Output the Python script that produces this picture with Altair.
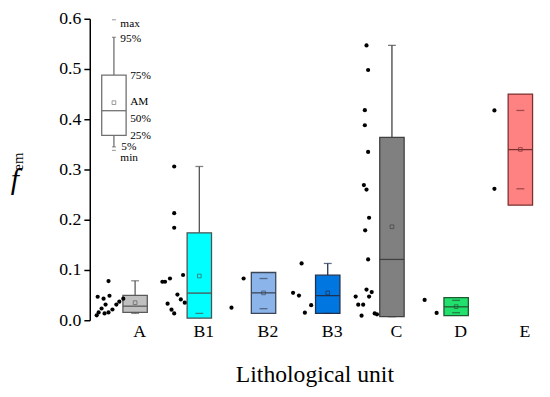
import altair as alt
import pandas as pd

# ---- data ----
groups = ["A", "B1", "B2", "B3", "C", "D", "E"]
p5 = [0.0136, 0.0136, 0.023, 0.0136, 0.007, 0.015, 0.2616]
q25 = [0.0156, 0.004, 0.0136, 0.0136, 0.007, 0.009, 0.229]
median = [0.028, 0.054, 0.0545, 0.049, 0.121, 0.0267, 0.3396]
mean = [0.035, 0.088, 0.0545, 0.0545, 0.186, 0.027, 0.34]
q75 = [0.0493, 0.174, 0.095, 0.0896, 0.364, 0.0448, 0.45]
p95 = [0.0785, 0.306, 0.083, 0.113, 0.547, 0.0396, 0.4175]
fills = ["#c0c0c0", "#00ffff", "#8ab4ea", "#0077e0", "#808080", "#22e06e", "#ff8282"]
strokes = ["#5a5a5a", "#505050", "#3c4658", "#203050", "#404040", "#1f5a30", "#7a3030"]

dot_group = (["A"] * 14 + ["B1"] * 13 + ["B2"] * 2 + ["B3"] * 5 + ["C"] * 19
             + ["D"] * 2 + ["E"] * 2)
dot_value = [
    0.0779, 0.0468, 0.0429, 0.0487, 0.0312, 0.0234, 0.0156, 0.0097, 0.0312, 0.037, 0.0429, 0.0214, 0.0156, 0.0136,
    0.306, 0.213, 0.184, 0.083, 0.090, 0.0766, 0.0766, 0.051, 0.0415, 0.035, 0.033, 0.021, 0.0136,
    0.083, 0.025,
    0.113, 0.0545, 0.049, 0.030, 0.015,
    0.547, 0.498, 0.418, 0.388, 0.335, 0.269, 0.260, 0.204, 0.179, 0.121, 0.061, 0.056, 0.047, 0.047, 0.031, 0.031,
    0.009, 0.0136, 0.0117,
    0.0405, 0.0146,
    0.4175, 0.2616,
]
dot_jitter = [
    -0.414, -0.583, -0.491, -0.399, -0.460, -0.522, -0.568, -0.598, -0.292, -0.246, -0.184, -0.353, -0.414, -0.476,
    -0.391, -0.391, -0.391, -0.457, -0.253, -0.575, -0.534, -0.341, -0.288, -0.227, -0.494, -0.433, -0.391,
    -0.31, -0.499,
    -0.407, -0.540, -0.448, -0.258, -0.356,
    -0.396, -0.371, -0.422, -0.422, -0.371, -0.437, -0.396, -0.356, -0.417, -0.371, -0.396, -0.315, -0.565, -0.356,
    -0.525, -0.448, -0.473, -0.269, -0.233,
    -0.491, -0.304,
    -0.404, -0.404,
]

# legend (key) box
key_pos = -0.33
key_stats = {"p5": 0.345, "q25": 0.368, "med": 0.417, "mean": 0.433, "q75": 0.488, "p95": 0.563,
             "min": 0.338, "max": 0.598}
key_labels = ["max", "95%", "75%", "AM", "50%", "25%", "5%", "min"]
key_label_y = [0.590, 0.560, 0.485, 0.4335, 0.401, 0.366, 0.344, 0.322]
key_label_x = [-0.230, -0.230, -0.077, -0.077, -0.077, -0.077, -0.215, -0.230]

# ---- tables ----
boxes = pd.DataFrame({"group": groups, "idx": list(range(len(groups))), "p5": p5, "q25": q25,
                      "med": median, "mean": mean, "q75": q75, "p95": p95,
                      "fill": fills, "stroke": strokes})
key = pd.DataFrame([{"group": "key", "idx": key_pos, **key_stats, "fill": "white", "stroke": "#707070"}])
dots = pd.DataFrame({"group": dot_group, "value": dot_value, "jitter": dot_jitter})
dots["idx"] = dots["group"].map({g: i for i, g in enumerate(groups)})
keytext = pd.DataFrame({"label": key_labels, "y": key_label_y, "x": key_label_x})

SERIF = "Liberation Serif"
xscale = alt.Scale(domain=[-0.706, 6.291], nice=False, zero=False)
yscale = alt.Scale(domain=[0, 0.6], nice=False, zero=False)
label_expr = "[" + ",".join("'%s'" % g for g in groups) + "][datum.value]"
xaxis = alt.Axis(values=list(range(len(groups))), labelExpr=label_expr, domain=False, ticks=False,
                 grid=False, labelFont=SERIF, labelFontSize=18, labelColor="black", labelOffset=4,
                 labelPadding=3, labelFlush=False, labelOverlap=False,
                 title="Lithological unit", titleFont=SERIF, titleFontSize=24, titleFontWeight="normal",
                 titleColor="black", titlePadding=22)
yaxis = alt.Axis(values=[0, 0.1, 0.2, 0.3, 0.4, 0.5, 0.6], format=".1f", grid=False,
                 domainColor="black", domainWidth=1.5, tickColor="black", tickWidth=1.5, tickSize=6,
                 labelFont=SERIF, labelFontSize=18, labelColor="black", labelPadding=3, title=None)


def X(f):
    return alt.X(f, type="quantitative", scale=xscale, axis=xaxis)


def Y(f):
    return alt.Y(f, type="quantitative", scale=yscale, axis=yaxis)


def box_layers(df, cap_size):
    base = alt.Chart(df).transform_calculate(xl="datum.idx - 0.19", xr="datum.idx + 0.19")
    whisk_hi = base.mark_rule(strokeWidth=1.3).encode(
        x=X("idx"), y=Y("q75"), y2="p95", stroke=alt.Stroke("stroke:N", scale=None))
    whisk_lo = base.mark_rule(strokeWidth=1.3).encode(
        x=X("idx"), y=Y("q25"), y2="p5", stroke=alt.Stroke("stroke:N", scale=None))
    bar = base.mark_bar(strokeWidth=1.3).encode(
        x=X("xl"), x2="xr", y=Y("q25"), y2="q75",
        fill=alt.Fill("fill:N", scale=None), stroke=alt.Stroke("stroke:N", scale=None))
    med = base.mark_rule(strokeWidth=1.3).encode(
        x=X("xl"), x2="xr", y=Y("med"), stroke=alt.Stroke("stroke:N", scale=None))
    cap_hi = base.mark_tick(orient="horizontal", size=cap_size, thickness=1.3).encode(
        x=X("idx"), y=Y("p95"), color=alt.Color("stroke:N", scale=None))
    cap_lo = base.mark_tick(orient="horizontal", size=cap_size, thickness=1.3).encode(
        x=X("idx"), y=Y("p5"), color=alt.Color("stroke:N", scale=None))
    mn = base.mark_point(shape="square", size=14, filled=False, strokeWidth=1).encode(
        x=X("idx"), y=Y("mean"), color=alt.Color("stroke:N", scale=None))
    return [whisk_hi, whisk_lo, bar, med, cap_hi, cap_lo, mn]


layers = box_layers(boxes, 8)
layers += box_layers(key, 4)

# min / max dashes of the key
keyminmax = alt.Chart(key).transform_fold(["min", "max"], as_=["k", "v"]).mark_tick(
    orient="horizontal", size=4, thickness=1.2, color="#808080").encode(x=X("idx"), y=Y("v"))
layers.append(keyminmax)

key_txt = alt.Chart(keytext).mark_text(font=SERIF, fontSize=11.5, align="left", baseline="middle",
                                       color="black").encode(x=X("x"), y=Y("y"), text="label:N")
layers.append(key_txt)

pts = alt.Chart(dots).transform_calculate(px="datum.idx + datum.jitter").mark_circle(
    size=18, color="black", opacity=1).encode(x=X("px"), y=Y("value"))
layers.append(pts)

# y title: italic f with subscript em
ft = alt.Chart(pd.DataFrame({"t": ["f"]})).mark_text(
    font=SERIF, fontStyle="italic", fontSize=30, align="center", baseline="middle",
    color="black").encode(x=alt.value(-76), y=alt.value(164), text="t:N")
et = alt.Chart(pd.DataFrame({"t": ["em"]})).mark_text(
    font=SERIF, fontSize=15, angle=270, align="center", baseline="middle",
    color="black").encode(x=alt.value(-73), y=alt.value(145), text="t:N")
layers += [ft, et]

chart = alt.layer(*layers).properties(
    width=456, height=306,
    autosize=alt.AutoSizeParams(type="none"),
    padding={"left": 83, "top": 8, "right": 3, "bottom": 75},
).configure_view(stroke=None).configure_axis(labelFont=SERIF, titleFont=SERIF)

chart.save("out.html", embed_options={"renderer": "svg", "actions": False})
